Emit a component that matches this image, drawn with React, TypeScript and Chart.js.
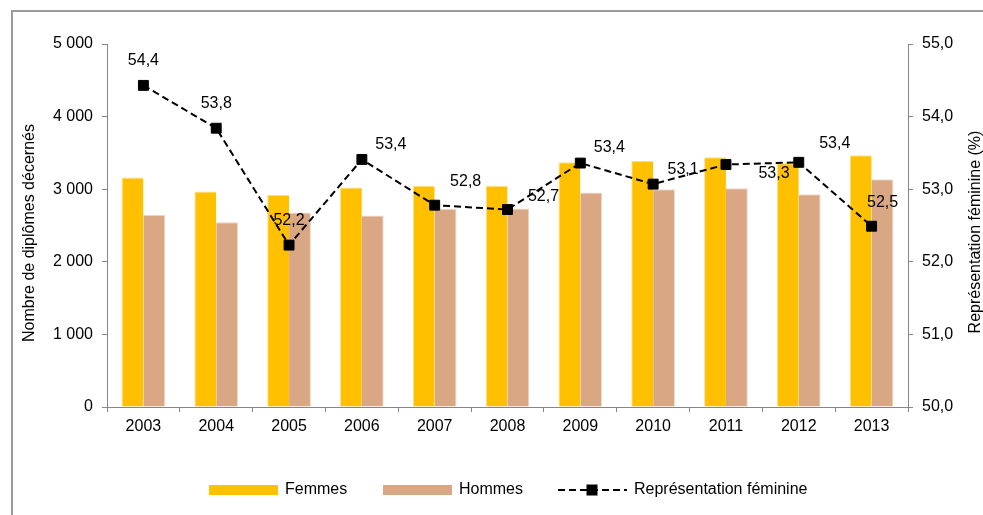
import React, { useEffect, useRef } from 'react';
import { Chart, registerables } from 'chart.js';

Chart.register(...registerables);

const years = ['2003', '2004', '2005', '2006', '2007', '2008', '2009', '2010', '2011', '2012', '2013'];
const femmes = [3160, 2967, 2922, 3022, 3046, 3046, 3372, 3390, 3441, 3358, 3468];
const hommes = [2647, 2546, 2678, 2637, 2729, 2733, 2954, 3000, 3014, 2931, 3138];
const representation = [54.43, 53.84, 52.23, 53.41, 52.78, 52.72, 53.36, 53.07, 53.34, 53.37, 52.49];

const seriesNames = ['Femmes', 'Hommes', 'Représentation féminine'];
const leftTitle = 'Nombre de diplômes décernés';
const rightTitle = 'Représentation féminine (%)';

// label offsets (px) relative to each marker, as placed in the reference
const labelOffsets: [number, number][] = [
  [0, -25], [0, -25], [0, -25], [29, -15], [31, -24], [36, -13],
  [29, -15], [30, -15], [48, 9], [36, -19], [11, -24],
];

const FONT = "'Liberation Sans', Arial, sans-serif";
const AXIS_GRAY = '#868686';
const C_F = '#FFC000';
const C_H = '#D9A784';

const W = 983;
const H = 515;
const PLOT_LEFT = 107;
const PLOT_RIGHT = 908;
const PLOT_TOP = 44;
const PLOT_BOTTOM = 407;

const fmtThousands = (v: number) => String(v).replace(/\B(?=(\d{3})+(?!\d))/g, ' ');
const fmtDec = (v: number) => v.toFixed(1).replace('.', ',');

const decorPlugin = {
  id: 'decor',
  afterDatasetsDraw(chart: any) {
    const ctx = chart.ctx;
    const meta = chart.getDatasetMeta(2);
    ctx.save();
    ctx.font = `16px ${FONT}`;
    ctx.fillStyle = '#000';
    ctx.textAlign = 'center';
    ctx.textBaseline = 'middle';
    meta.data.forEach((pt: any, i: number) => {
      const [dx, dy] = labelOffsets[i] || [0, -25];
      ctx.fillText(fmtDec(representation[i]), pt.x + dx, pt.y + dy);
    });
    ctx.restore();
  },
  afterDraw(chart: any) {
    const ctx = chart.ctx;
    ctx.save();
    ctx.font = `16px ${FONT}`;
    ctx.fillStyle = '#000';
    ctx.textAlign = 'center';
    ctx.textBaseline = 'middle';
    // axis titles
    ctx.save();
    ctx.translate(30, 233);
    ctx.rotate(-Math.PI / 2);
    ctx.fillText(leftTitle, 0, 0);
    ctx.restore();
    ctx.save();
    ctx.translate(976, 232);
    ctx.rotate(-Math.PI / 2);
    ctx.fillText(rightTitle, 0, 0);
    ctx.restore();

    // legend
    const ly = 490;
    ctx.textAlign = 'left';
    ctx.fillStyle = C_F;
    ctx.fillRect(209, ly - 5, 69, 10);
    ctx.fillStyle = '#000';
    ctx.fillText(seriesNames[0], 285, ly);
    ctx.fillStyle = C_H;
    ctx.fillRect(383, ly - 5, 69, 10);
    ctx.fillStyle = '#000';
    ctx.fillText(seriesNames[1], 459, ly);
    ctx.strokeStyle = '#000';
    ctx.lineWidth = 2;
    ctx.setLineDash([7, 4]);
    ctx.beginPath();
    ctx.moveTo(558, ly);
    ctx.lineTo(627, ly);
    ctx.stroke();
    ctx.setLineDash([]);
    ctx.fillRect(592 - 5.5, ly - 5.5, 11, 11);
    ctx.fillText(seriesNames[2], 634, ly);
    ctx.restore();
  },
};

export default function App() {
  const ref = useRef<HTMLCanvasElement | null>(null);
  useEffect(() => {
    if (!ref.current) return;
    const chart = new Chart(ref.current, {
      type: 'bar',
      data: {
        labels: years,
        datasets: [
          {
            type: 'bar',
            label: seriesNames[0],
            data: femmes,
            backgroundColor: C_F,
            borderColor: '#FFE08A',
            borderWidth: { top: 1, left: 1, right: 0, bottom: 0 },
            yAxisID: 'y',
            order: 1,
            categoryPercentage: 0.6,
            barPercentage: 1,
          },
          {
            type: 'bar',
            label: seriesNames[1],
            data: hommes,
            backgroundColor: C_H,
            borderColor: '#EEDACB',
            borderWidth: { top: 1, left: 0, right: 1, bottom: 0 },
            yAxisID: 'y',
            order: 1,
            categoryPercentage: 0.6,
            barPercentage: 1,
          },
          {
            type: 'line',
            label: seriesNames[2],
            data: representation,
            yAxisID: 'y1',
            borderColor: '#000',
            borderWidth: 2,
            borderDash: [7, 4],
            pointStyle: 'rect',
            pointRadius: 7,
            pointBackgroundColor: '#000',
            pointBorderColor: '#000',
            pointBorderWidth: 1,
            fill: false,
            tension: 0,
            order: 0,
          } as any,
        ],
      },
      options: {
        responsive: false,
        maintainAspectRatio: false,
        animation: false,
        layout: { padding: { top: PLOT_TOP, left: 0, right: 0, bottom: 0 } },
        plugins: {
          legend: { display: false },
          tooltip: { enabled: false },
          title: { display: false },
        },
        scales: {
          x: {
            offset: true,
            grid: { display: true, drawOnChartArea: false, drawTicks: true, tickLength: 5, color: AXIS_GRAY, offset: true },
            border: { display: true, color: AXIS_GRAY, width: 1 },
            ticks: { color: '#000', font: { family: FONT, size: 16 }, padding: 5, maxRotation: 0 },
            afterFit: (s: any) => { s.height = H - PLOT_BOTTOM; },
          },
          y: {
            position: 'left',
            min: 0,
            max: 5000,
            ticks: { stepSize: 1000, color: '#000', font: { family: FONT, size: 16 }, padding: 9, callback: (v: any) => fmtThousands(Number(v)) },
            grid: { display: true, drawOnChartArea: false, drawTicks: true, tickLength: 5, color: AXIS_GRAY },
            border: { display: true, color: AXIS_GRAY, width: 1 },
            afterFit: (s: any) => { s.width = PLOT_LEFT; },
          },
          y1: {
            position: 'right',
            min: 50,
            max: 55,
            ticks: { stepSize: 1, color: '#000', font: { family: FONT, size: 16 }, padding: 9, callback: (v: any) => fmtDec(Number(v)) },
            grid: { display: true, drawOnChartArea: false, drawTicks: true, tickLength: 5, color: AXIS_GRAY },
            border: { display: true, color: AXIS_GRAY, width: 1 },
            afterFit: (s: any) => { s.width = W - PLOT_RIGHT; },
          },
        },
      },
      plugins: [decorPlugin],
    } as any);
    return () => chart.destroy();
  }, []);

  return (
    <div style={{ position: 'absolute', left: 0, top: 0, width: W, height: H, overflow: 'hidden', background: '#fff' }}>
      <div style={{ position: 'absolute', left: 11, top: 10, width: 1100, height: 700, borderLeft: '2px solid #9a9a9a', borderTop: '2px solid #9a9a9a' }} />
      <canvas ref={ref} width={W} height={H} style={{ position: 'absolute', left: 0, top: 0, width: W, height: H }} />
    </div>
  );
}
